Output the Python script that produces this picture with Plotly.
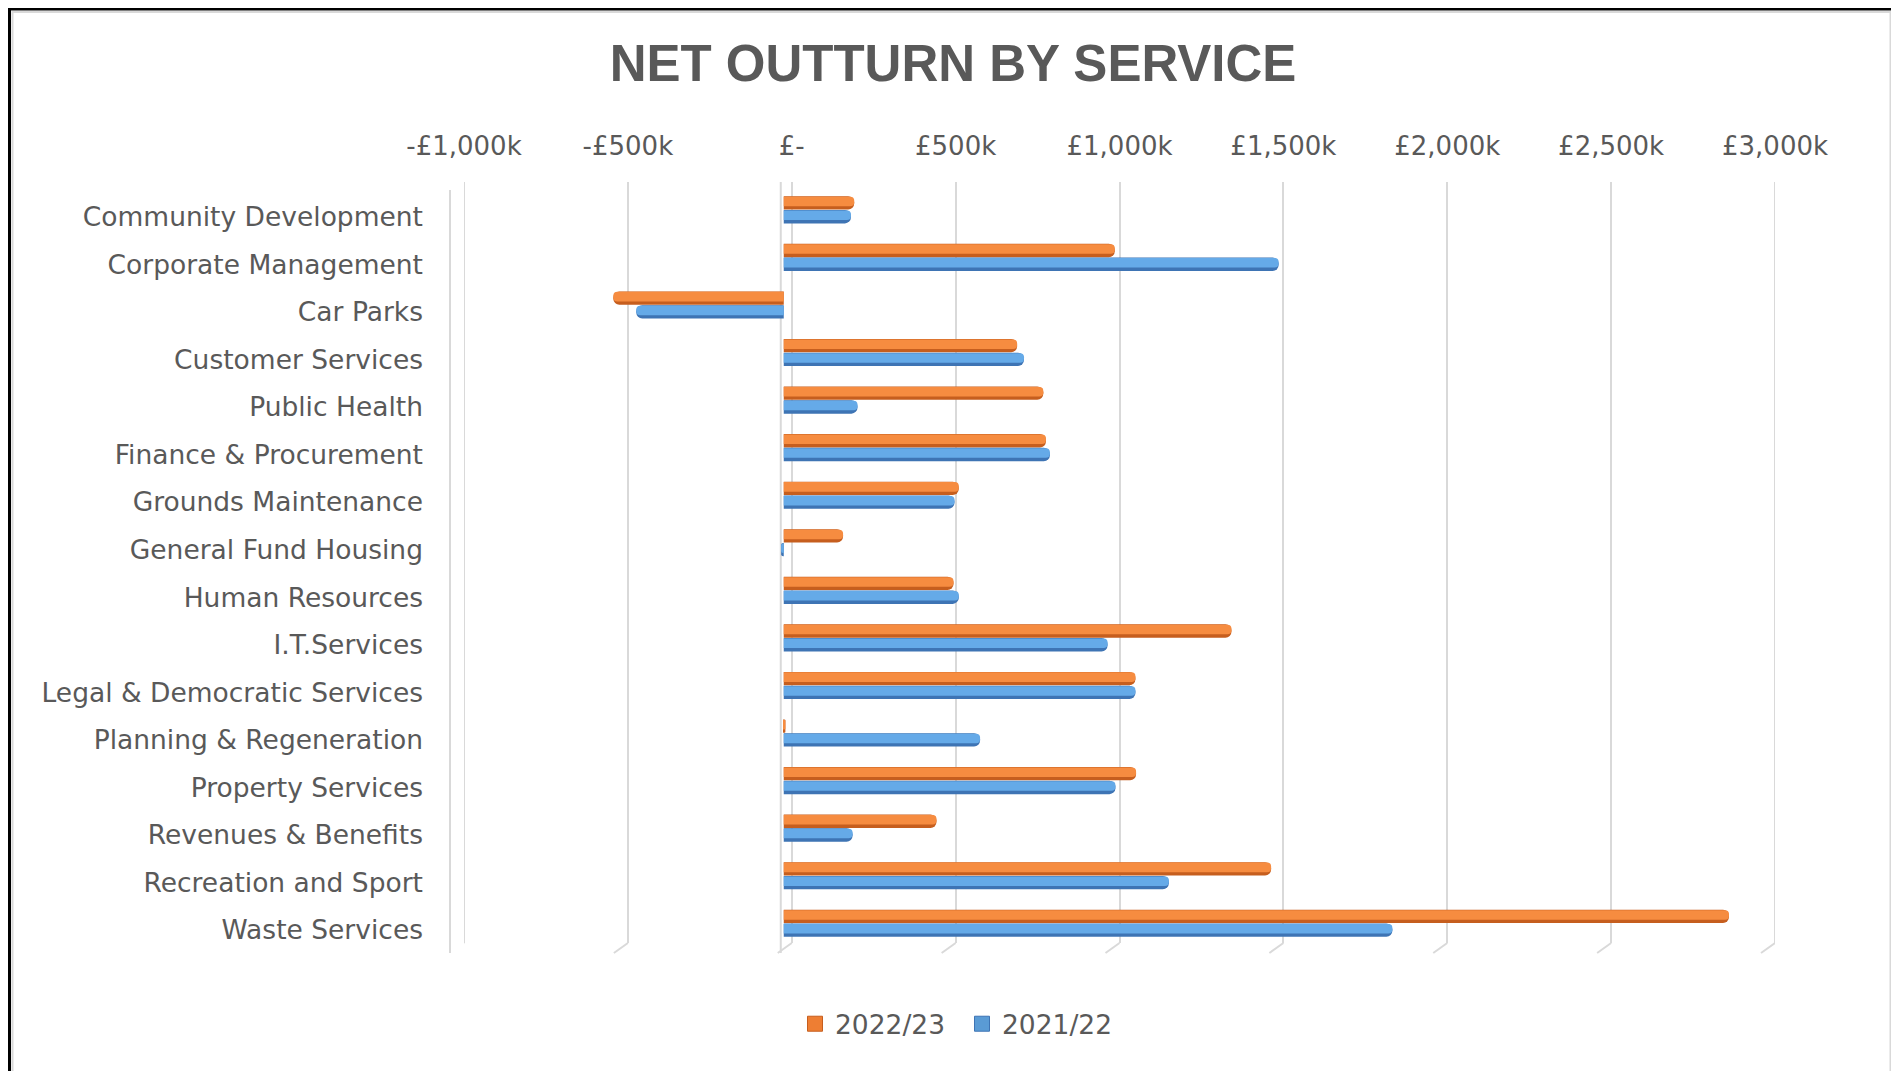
import plotly.graph_objects as go

categories = [
    "Community Development", "Corporate Management", "Car Parks", "Customer Services",
    "Public Health", "Finance & Procurement", "Grounds Maintenance", "General Fund Housing",
    "Human Resources", "I.T.Services", "Legal & Democratic Services", "Planning & Regeneration",
    "Property Services", "Revenues & Benefits", "Recreation and Sport", "Waste Services",
]
outturn_2022_23 = [215, 1010, -520, 712, 792, 800, 534, 181, 518, 1366, 1073, 5, 1075, 466, 1487, 2884]
outturn_2021_22 = [205, 1510, -450, 733, 225, 812, 521, -8, 534, 988, 1073, 599, 1012, 210, 1175, 1857]
series_names = ["2022/23", "2021/22"]
tick_values = [-1000, -500, 0, 500, 1000, 1500, 2000, 2500, 3000]
tick_labels = ["-£1,000k", "-£500k", "£-", "£500k", "£1,000k", "£1,500k", "£2,000k", "£2,500k", "£3,000k"]

# page body has an 8px margin; work in screen pixels and convert
OFF = 8
W, H = 1899 - OFF, 1071 - OFF
ML, MR, MT, MB = 456 - OFF, 124, 182 - OFF, 128
PW = W - ML - MR
PH = H - MT - MB


def px_x(sx):
    return (sx - OFF - ML) / PW


def px_y(sy):
    return (H - MB - (sy - OFF)) / PH


TEXT = "#595959"
GRID = "#d9d9d9"

styles = [
    dict(base="#C65E1E", light="#F68C40", legend="#EE7E33", off=-0.43),
    dict(base="#3E74B4", light="#65AAE8", legend="#5A9BD5", off=-0.14),
]

fig = go.Figure()
for i, (name, vals) in enumerate(zip(series_names, [outturn_2022_23, outturn_2021_22])):
    st = styles[i]
    fig.add_trace(go.Bar(
        y=categories, x=vals, orientation="h", xaxis="x2", yaxis="y",
        width=0.28, offset=st["off"], name=name, showlegend=False,
        marker=dict(color=st["base"], cornerradius="50%", line=dict(width=0)),
        hoverinfo="skip",
    ))
    fig.add_trace(go.Bar(
        y=categories, x=vals, orientation="h", xaxis="x2", yaxis="y",
        width=0.2, offset=st["off"] + 0.01, name=name, showlegend=False,
        marker=dict(color=st["light"], cornerradius="50%", line=dict(width=0)),
    ))
for i, name in enumerate(series_names):
    st = styles[i]
    fig.add_trace(go.Scatter(
        x=[None], y=[None], mode="markers", name=name, legendrank=i + 1, xaxis="x2", yaxis="y",
        marker=dict(symbol="square", size=15, color=st["legend"], line=dict(color=st["base"], width=1)),
    ))

shapes = []
# chart frame
shapes.append(dict(type="rect", xref="paper", yref="paper", x0=px_x(9.5), x1=px_x(1894),
                   y0=px_y(1100), y1=px_y(9), line=dict(color="black", width=3), layer="above"))
shapes.append(dict(type="rect", xref="paper", yref="paper", x0=px_x(12.5), x1=px_x(1890.5),
                   y0=px_y(1100), y1=px_y(12), line=dict(color=GRID, width=2), layer="below"))
# left wall edge
shapes.append(dict(type="line", xref="paper", yref="paper", x0=px_x(450), x1=px_x(450),
                   y0=px_y(953), y1=px_y(190), line=dict(color=GRID, width=2), layer="below"))
# gridlines at the two ends of the axis (plotly skips those at the plot edge)
for v in (tick_values[0], tick_values[-1]):
    shapes.append(dict(type="line", xref="x", x0=v, x1=v, yref="paper", y0=0, y1=1,
                       line=dict(color=GRID, width=2), layer="below"))
# front edge of zero wall
shapes.append(dict(type="line", xref="x", xsizemode="pixel", xanchor=0, x0=-11, x1=-11,
                   yref="paper", y0=px_y(953), y1=1, line=dict(color=GRID, width=2), layer="below"))
# floor feet of gridlines
for v in tick_values:
    shapes.append(dict(type="line", xref="x", xsizemode="pixel", xanchor=v, x0=0, x1=-14,
                       yref="paper", ysizemode="pixel", yanchor=0, y0=0, y1=-10,
                       line=dict(color=GRID, width=2), layer="below"))

fig.update_layout(
    width=W, height=H, autosize=False,
    margin=dict(l=ML, r=MR, t=MT, b=MB),
    paper_bgcolor="white", plot_bgcolor="rgba(0,0,0,0)",
    barmode="overlay",
    title=dict(text="<b>NET OUTTURN BY SERVICE</b>", x=px_x(953), xref="paper", xanchor="center",
               y=1 - (63 - OFF) / H, yref="container", yanchor="middle",
               font=dict(family="Liberation Sans, Arial, sans-serif", size=51, color=TEXT)),
    xaxis=dict(domain=[8 / PW, 1], range=[-1000, 3000], side="top", anchor="y",
               tickmode="array", tickvals=tick_values, ticktext=tick_labels,
               showgrid=True, gridcolor=GRID, gridwidth=2, zeroline=False, showline=False,
               ticks="", ticklabelstandoff=21, automargin=False,
               tickfont=dict(family="DejaVu Sans", size=26, color=TEXT)),
    xaxis2=dict(domain=[0, 1 - 8 / PW], range=[-1000, 3000], anchor="y", visible=False,
                showgrid=False, zeroline=False),
    yaxis=dict(type="category", categoryorder="array", categoryarray=categories,
               range=[15.27, -0.73], anchor="x", showgrid=False, zeroline=False, showline=False,
               ticks="", ticklabelstandoff=40, automargin=False,
               tickfont=dict(family="DejaVu Sans", size=26.5, color=TEXT)),
    legend=dict(orientation="h", x=px_x(962), xanchor="center", y=px_y(1024), yanchor="middle",
                entrywidth=122, entrywidthmode="pixels",
                font=dict(family="DejaVu Sans", size=26.5, color=TEXT), bgcolor="rgba(0,0,0,0)"),
    shapes=shapes,
)

fig.write_html("out.html")
